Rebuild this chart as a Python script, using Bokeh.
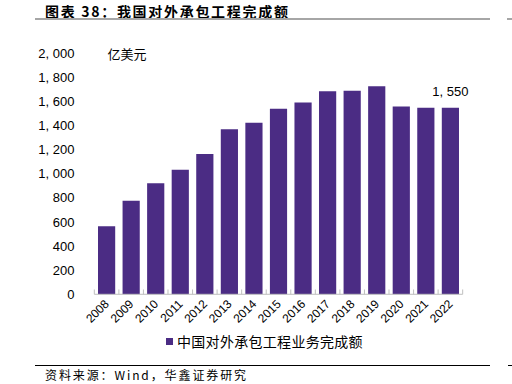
from math import pi
from bokeh.plotting import figure
from bokeh.layouts import column
from bokeh.core.properties import value
from bokeh.models import (ColumnDataSource, FixedTicker, Label, LabelSet,
                          FactorRange, Range1d, Div)
from bokeh.transform import dodge
from bokeh.embed import file_html
from bokeh.resources import INLINE

years = ["2008", "2009", "2010", "2011", "2012", "2013", "2014", "2015",
         "2016", "2017", "2018", "2019", "2020", "2021", "2022"]
values = [566.1, 777.0, 921.7, 1034.2, 1165.9, 1371.4, 1424.1, 1540.7,
          1594.2, 1685.9, 1690.4, 1729.0, 1559.4, 1549.4, 1549.9]
yticks = [0, 200, 400, 600, 800, 1000, 1200, 1400, 1600, 1800, 2000]
ytick_labels = ["0", "200", "400", "600", "800", "1, 000", "1, 200", "1, 400",
                "1, 600", "1, 800", "2, 000"]
series_name = "中国对外承包工程业务完成额"
title_text = "图表 38：我国对外承包工程完成额"
unit_text = "亿美元"
source_text = "资料来源：Wind，华鑫证券研究"

BAR = "#4B2C84"
CJK = "Noto Sans CJK SC"
LAT = "Liberation Sans"
W = 512
TOP_H, BOT_H = 28, 50
FIG_H = 384 - TOP_H - BOT_H

top_div = Div(width=W, height=TOP_H, margin=0, text=f"""
<div style="position:relative;width:{W}px;height:{TOP_H}px;">
<div style="position:absolute;left:45px;top:3.5px;font-family:'{CJK}';font-weight:bold;font-size:14px;letter-spacing:1.7px;line-height:14px;white-space:nowrap;color:#000;">{title_text}</div>
<div style="position:absolute;left:35px;top:18px;width:455px;height:2px;background:#a6a6a6;"></div>
<div style="position:absolute;left:507px;top:18px;width:5px;height:2px;background:#a6a6a6;"></div>
</div>""")

bot_div = Div(width=W, height=BOT_H, margin=0, text=f"""
<div style="position:relative;width:{W}px;height:{BOT_H}px;">
<div style="position:absolute;left:166px;top:4px;width:7px;height:7px;background:{BAR};"></div>
<div style="position:absolute;left:177px;top:0px;font-family:'{CJK}';font-size:14px;letter-spacing:0.3px;line-height:14px;white-space:nowrap;color:#000;">{series_name}</div>
<div style="position:absolute;left:35px;top:31px;width:455px;height:1px;background:#000;"></div>
<div style="position:absolute;left:508px;top:31px;width:4px;height:1px;background:#000;"></div>
<div style="position:absolute;left:45px;top:35px;font-family:'{CJK}';font-size:12px;letter-spacing:1.9px;line-height:12px;white-space:nowrap;color:#000;">{source_text}</div>
</div>""")

p = figure(width=W, height=FIG_H,
           x_range=FactorRange(factors=years, range_padding=0.4, range_padding_units="absolute"),
           y_range=Range1d(-10, 2100), output_backend="svg", toolbar_location=None,
           min_border_left=84, min_border_right=40, min_border_top=13,
           min_border_bottom=FIG_H - 13 - 254, title=None)
p.outline_line_color = None
p.xgrid.grid_line_color = None
p.ygrid.grid_line_color = None

src = ColumnDataSource(dict(year=years, value=values))
bars = p.vbar(x="year", top="value", width=0.7, source=src,
              fill_color=BAR, line_color=None)

# baseline and tick marks at category boundaries
ends = ColumnDataSource(dict(a=years[:1], b=years[-1:]))
p.segment(x0=dodge("a", -0.5, range=p.x_range), y0=0,
          x1=dodge("b", 0.5, range=p.x_range), y1=0,
          source=ends, line_color="#bfbfbf", line_width=1)
p.segment(x0=dodge("year", -0.5, range=p.x_range), y0=0,
          x1=dodge("year", -0.5, range=p.x_range), y1=40,
          source=src, line_color="#bfbfbf", line_width=1)
last = ColumnDataSource(dict(year=years[-1:]))
p.segment(x0=dodge("year", 0.5, range=p.x_range), y0=0,
          x1=dodge("year", 0.5, range=p.x_range), y1=40,
          source=last, line_color="#bfbfbf", line_width=1)

xa = p.xaxis[0]
xa.axis_line_color = None
xa.major_tick_line_color = None
xa.minor_tick_line_color = None
xa.major_tick_out = 0
xa.major_label_orientation = pi / 4
xa.major_label_text_font = LAT
xa.major_label_text_font_size = "12px"
xa.major_label_text_color = "#000000"
xa.major_label_standoff = 6

ya = p.yaxis[0]
ya.ticker = FixedTicker(ticks=yticks)
ya.major_label_overrides = {t: l for t, l in zip(yticks, ytick_labels)}
ya.axis_line_color = None
ya.major_tick_line_color = None
ya.minor_tick_line_color = None
ya.major_tick_out = 0
ya.major_tick_in = 0
ya.major_label_standoff = 10
ya.major_label_text_font = LAT
ya.major_label_text_font_size = "13px"
ya.major_label_text_color = "#000000"

# value label on last bar
lab_src = ColumnDataSource(dict(year=years[-1:], value=values[-1:],
                                label=[f"{values[-1]:,.0f}".replace(",", ", ")]))
p.add_layout(LabelSet(x="year", y="value", text="label", source=lab_src,
                      text_align="center", text_baseline="bottom", y_offset=9,
                      text_font=value(LAT), text_font_size=value("13px"),
                      text_color="#000000"))

# unit label
p.add_layout(Label(x=23, y=yticks[-1], x_units="screen", y_units="data",
                   text=unit_text, text_baseline="middle", text_font=CJK,
                   text_font_size="13px", text_color="#000000"))

open("out.html", "w").write(file_html(column(top_div, p, bot_div), INLINE))
